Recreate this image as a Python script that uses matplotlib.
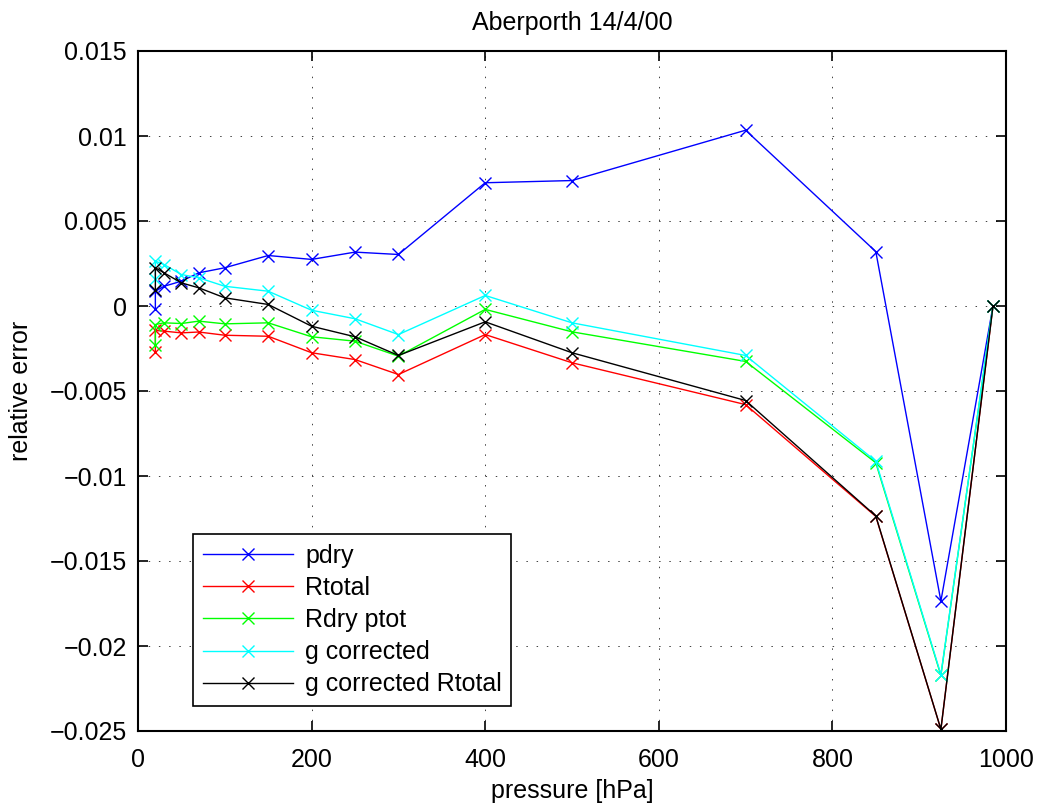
import matplotlib
matplotlib.use("Agg")
import matplotlib.pyplot as plt
import numpy as np

plt.rcParams['font.family'] = ['Liberation Sans', 'DejaVu Sans']

# pressure levels [hPa], surface first
pres = [985, 925, 850, 700, 500, 400, 300, 250, 200, 150, 100, 70, 50, 30, 20, 20]

pdry = [0, -0.01736, 0.0032, 0.01034, 0.00738, 0.00725, 0.00303, 0.00317,
        0.00274, 0.00297, 0.00225, 0.00195, 0.00146, 0.00116, 0.00087, -0.0002]
rtotal = [0, -0.0249, -0.01238, -0.0058, -0.00334, -0.00168, -0.00403, -0.00315,
          -0.00275, -0.00178, -0.00172, -0.00153, -0.00158, -0.00148, -0.00144, -0.0027]
rdry_ptot = [0, -0.02173, -0.00922, -0.00326, -0.00152, -0.0002, -0.00295, -0.00207,
             -0.00181, -0.00099, -0.00105, -0.00089, -0.00103, -0.00099, -0.00109, -0.0023]
g_corr = [0, -0.02168, -0.00913, -0.00291, -0.00099, 0.00062, -0.00168, -0.00075,
          -0.00025, 0.00087, 0.00116, 0.00166, 0.00185, 0.00244, 0.00264, 0.00156]
g_corr_rtot = [0, -0.0249, -0.01235, -0.00556, -0.00275, -0.00093, -0.00291, -0.00181,
               -0.00119, 0.00009, 0.00048, 0.00107, 0.00136, 0.00195, 0.00225, 0.00097]

series = [(pdry, 'pdry', (0, 0, 1)),
          (rtotal, 'Rtotal', (1, 0, 0)),
          (rdry_ptot, 'Rdry ptot', (0, 1, 0)),
          (g_corr, 'g corrected', (0, 1, 1)),
          (g_corr_rtot, 'g corrected Rtotal', (0, 0, 0))]

xticks = [0, 200, 400, 600, 800, 1000]
yticks = [-0.025, -0.02, -0.015, -0.01, -0.005, 0, 0.005, 0.01, 0.015]
ylabels = ['\u22120.025', '\u22120.02', '\u22120.015', '\u22120.01', '\u22120.005',
           '0', '0.005', '0.01', '0.015']

fig = plt.figure(figsize=(10.39, 8.08), dpi=100)
ax = fig.add_axes([138/1039, 77/808, 868/1039, 680/808])

for vals, lab, col in series:
    ax.plot(pres, vals, '-x', color=col, lw=1.0, ms=9, mew=1.0, label=lab)

ax.set_xlim(0, 1000)
ax.set_ylim(-0.025, 0.015)
ax.set_xticks(xticks)
ax.set_xticklabels([str(t) for t in xticks])
ax.set_yticks(yticks)
ax.set_yticklabels(ylabels)
ax.tick_params(direction='in', length=7, width=1.2, top=True, right=True,
               labelsize=18, pad=8)
ax.tick_params(axis='x', pad=12)
for s in ax.spines.values():
    s.set_linewidth(1.5)
ax.grid(True, color='0.25', linestyle=(0, (1.5, 9)), linewidth=0.7)

ax.set_title('Aberporth 14/4/00', fontsize=18, pad=15)
ax.set_xlabel('pressure [hPa]', fontsize=18, labelpad=5)
ax.set_ylabel('relative error', fontsize=18, labelpad=12)

leg = ax.legend(loc='lower left', bbox_to_anchor=(55/868, 25/680), borderaxespad=0,
                fontsize=18, fancybox=False, framealpha=1, edgecolor='black',
                handlelength=3.6, labelspacing=0.33, borderpad=0.38, handletextpad=0.5,
                markerscale=0.9)
leg.get_frame().set_linewidth(1.2)

fig.savefig('out.png', dpi=100)
